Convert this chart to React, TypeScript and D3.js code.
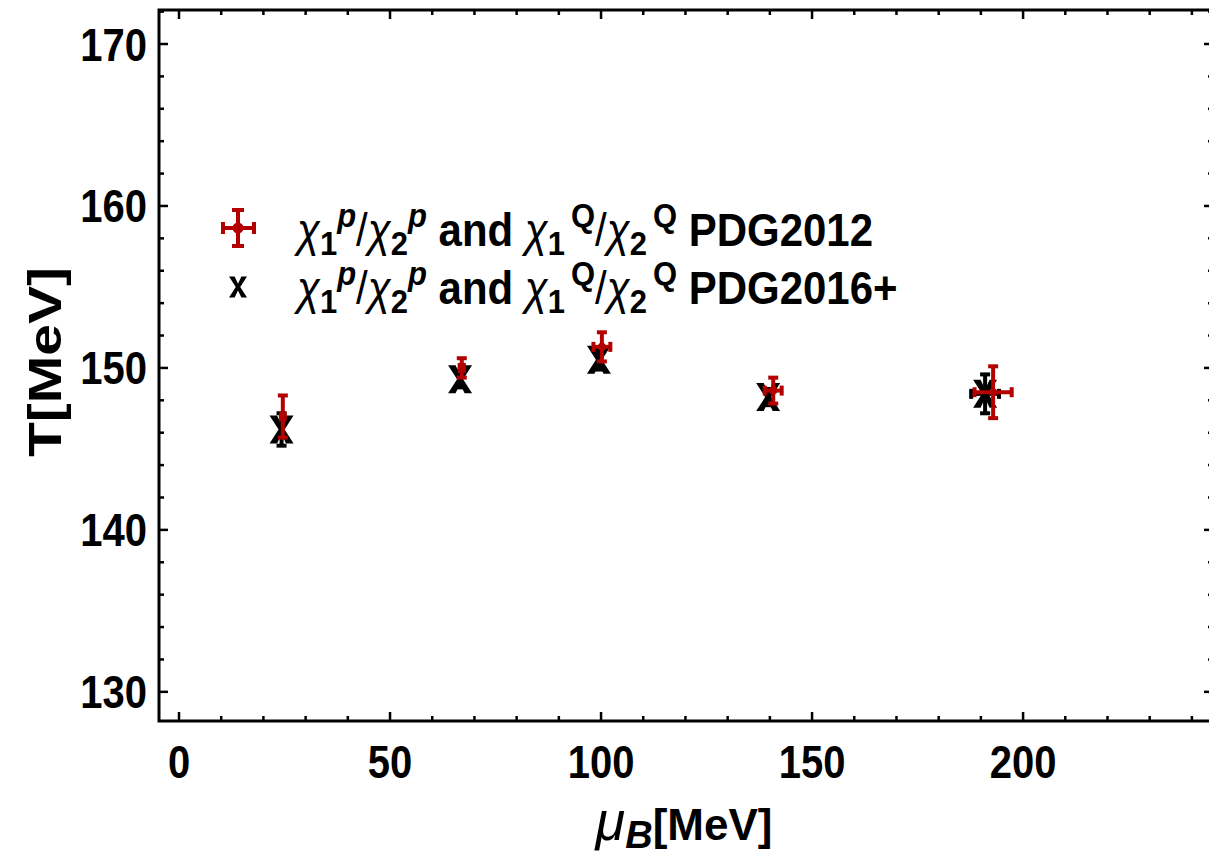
import React from "react";
import * as d3 from "d3";

const muB2012 = [24.6, 67.0, 100.2, 140.8, 192.9];
const T2012 = [147.0, 150.0, 151.3, 148.6, 148.5];
const dT2012 = [1.3, 0.6, 0.9, 0.8, 1.6];
const dMu2012 = [0.4, 0.5, 2.0, 2.0, 4.4];

const muB2016 = [24.3, 66.6, 99.5, 139.6, 191.0];
const T2016 = [146.2, 149.3, 150.5, 148.2, 148.4];
const dT2016 = [1.0, 0.5, 0.6, 0.5, 1.2];
const dMu2016 = [0, 0, 0, 0, 3.3];

const xMajor = [0, 50, 100, 150, 200];
const yMajor = [130, 140, 150, 160, 170];

const W = 1209, H = 855;
const L = 159, R = 1213, T = 10, B = 721;

const RED = "#b30000";
const FONT = "'Liberation Sans', Arial, sans-serif";

export default function App() {
  const x = d3.scaleLinear().domain([-4.74, 245.0]).range([L, R]);
  const y = d3.scaleLinear().domain([128.2, 172.1]).range([B, T]);
  const xMinor = d3.range(-0, 250, 10).filter((v) => x(v) < R - 2);
  const yMinor = d3.range(130, 172.1, 2);

  const xPath = (cx: number, cy: number, s = 1) => {
    const w = 12 * s, h = 14 * s, a = 4.5 * s, c = 4.5 * s, m = 3 * s;
    return `M${cx - w},${cy - h}L${cx - a},${cy - h}L${cx},${cy - c}L${cx + a},${cy - h}L${cx + w},${cy - h}L${cx + m},${cy}L${cx + w},${cy + h}L${cx + a},${cy + h}L${cx},${cy + c}L${cx - a},${cy + h}L${cx - w},${cy + h}L${cx - m},${cy}Z`;
  };

  const SUB = 31;
  const legendText = (tag: string) => (
    <>
      <tspan fontStyle="italic" fontWeight="normal">χ</tspan>
      <tspan fontSize={SUB} dy="8">1</tspan>
      <tspan fontSize={SUB} fontStyle="italic" dy="-25">p</tspan>
      <tspan dy="17" fontWeight="normal">/</tspan>
      <tspan fontStyle="italic" fontWeight="normal">χ</tspan>
      <tspan fontSize={SUB} dy="8">2</tspan>
      <tspan fontSize={SUB} fontStyle="italic" dy="-25">p</tspan>
      <tspan dy="17"> and </tspan>
      <tspan fontStyle="italic" fontWeight="normal">χ</tspan>
      <tspan fontSize={SUB} dy="8">1</tspan>
      <tspan fontSize={SUB} dy="-25" dx="6">Q</tspan>
      <tspan dy="17" fontWeight="normal">/</tspan>
      <tspan fontStyle="italic" fontWeight="normal">χ</tspan>
      <tspan fontSize={SUB} dy="8">2</tspan>
      <tspan fontSize={SUB} dy="-25" dx="6">Q</tspan>
      <tspan dy="17">{" " + tag}</tspan>
    </>
  );

  return (
    <svg width={W} height={H} style={{ position: "absolute", left: 0, top: 0, background: "#fff" }} fontFamily={FONT}>
      <rect x={0} y={0} width={W} height={H} fill="#fff" />
      <rect x={L} y={T} width={R - L} height={B - T} fill="none" stroke="#000" strokeWidth={3} />
      {xMinor.map((v) => {
        const major = xMajor.includes(v);
        const len = major ? 9 : 5;
        return (
          <g key={"xt" + v}>
            <line x1={x(v)} x2={x(v)} y1={B} y2={B - len} stroke="#000" strokeWidth={2.5} />
            <line x1={x(v)} x2={x(v)} y1={T} y2={T + len} stroke="#000" strokeWidth={2.5} />
          </g>
        );
      })}
      {yMinor.map((v) => {
        const major = yMajor.includes(Math.round(v));
        const len = major ? 9 : 5;
        return (
          <g key={"yt" + v}>
            <line x1={L} x2={L + len} y1={y(v)} y2={y(v)} stroke="#000" strokeWidth={2.5} />
            <line x1={R} x2={R - len} y1={y(v)} y2={y(v)} stroke="#000" strokeWidth={2.5} />
          </g>
        );
      })}
      {xMajor.map((v) => (
        <text key={"xl" + v} transform={`translate(${x(v)},778) scale(1,1.15)`} textAnchor="middle" fontSize={40} fontWeight="bold">
          {v}
        </text>
      ))}
      {yMajor.map((v) => (
        <text key={"yl" + v} transform={`translate(147,${y(v) + 16.5}) scale(1,1.15)`} textAnchor="end" fontSize={40} fontWeight="bold">
          {v}
        </text>
      ))}
      <text x={684} y={840} textAnchor="middle" fontSize={44} fontWeight="bold">
        <tspan fontStyle="italic" fontWeight="normal" fontSize={54}>μ</tspan>
        <tspan fontSize={38} fontStyle="italic" dy="8">B</tspan>
        <tspan dy="-8">[MeV]</tspan>
      </text>
      <text transform={`translate(61,362) rotate(-90) scale(1.24,1)`} textAnchor="middle" fontSize={46} fontWeight="bold">
        T[MeV]
      </text>
      {muB2016.map((m, i) => {
        const cx = x(m), cy = y(T2016[i]);
        const y1 = y(T2016[i] + dT2016[i]), y2 = y(T2016[i] - dT2016[i]);
        const x1 = x(m - dMu2016[i]), x2 = x(m + dMu2016[i]);
        return (
          <g key={"b" + i}>
            <line x1={cx} x2={cx} y1={y1} y2={y2} stroke="#000" strokeWidth={4} />
            <line x1={cx - 5} x2={cx + 5} y1={y1} y2={y1} stroke="#000" strokeWidth={4} />
            <line x1={cx - 5} x2={cx + 5} y1={y2} y2={y2} stroke="#000" strokeWidth={4} />
            {dMu2016[i] > 0 && (
              <>
                <line x1={x1} x2={x2} y1={cy} y2={cy} stroke="#000" strokeWidth={4} />
                <line x1={x1} x2={x1} y1={cy - 5} y2={cy + 5} stroke="#000" strokeWidth={4} />
                <line x1={x2} x2={x2} y1={cy - 5} y2={cy + 5} stroke="#000" strokeWidth={4} />
              </>
            )}
            <path d={xPath(cx, cy)} fill="#000" />
          </g>
        );
      })}
      {muB2012.map((m, i) => {
        const cx = x(m), cy = y(T2012[i]);
        const y1 = y(T2012[i] + dT2012[i]), y2 = y(T2012[i] - dT2012[i]);
        const x1 = x(m - dMu2012[i]), x2 = x(m + dMu2012[i]);
        return (
          <g key={"r" + i}>
            <line x1={cx} x2={cx} y1={y1} y2={y2} stroke={RED} strokeWidth={4} />
            <line x1={cx - 5} x2={cx + 5} y1={y1} y2={y1} stroke={RED} strokeWidth={4} />
            <line x1={cx - 5} x2={cx + 5} y1={y2} y2={y2} stroke={RED} strokeWidth={4} />
            <line x1={x1} x2={x2} y1={cy} y2={cy} stroke={RED} strokeWidth={4} />
            <line x1={x1} x2={x1} y1={cy - 5} y2={cy + 5} stroke={RED} strokeWidth={4} />
            <line x1={x2} x2={x2} y1={cy - 5} y2={cy + 5} stroke={RED} strokeWidth={4} />
            <circle cx={cx} cy={cy} r={4} fill={RED} />
          </g>
        );
      })}
      <g>
        <line x1={223} x2={254} y1={228} y2={228} stroke={RED} strokeWidth={4} />
        <line x1={223} x2={223} y1={222} y2={234} stroke={RED} strokeWidth={4} />
        <line x1={254} x2={254} y1={222} y2={234} stroke={RED} strokeWidth={4} />
        <line x1={238} x2={238} y1={210} y2={246} stroke={RED} strokeWidth={4} />
        <line x1={232} x2={244} y1={210} y2={210} stroke={RED} strokeWidth={4} />
        <line x1={232} x2={244} y1={246} y2={246} stroke={RED} strokeWidth={4} />
        <circle cx={238} cy={228} r={5.5} fill={RED} />
        <path d={xPath(238, 287, 0.75)} fill="#000" />
        <text transform="translate(297,246) scale(1,1.1)" fontSize={42} fontWeight="bold">{legendText("PDG2012")}</text>
        <text transform="translate(297,304) scale(1,1.1)" fontSize={42} fontWeight="bold">{legendText("PDG2016+")}</text>
      </g>
    </svg>
  );
}
